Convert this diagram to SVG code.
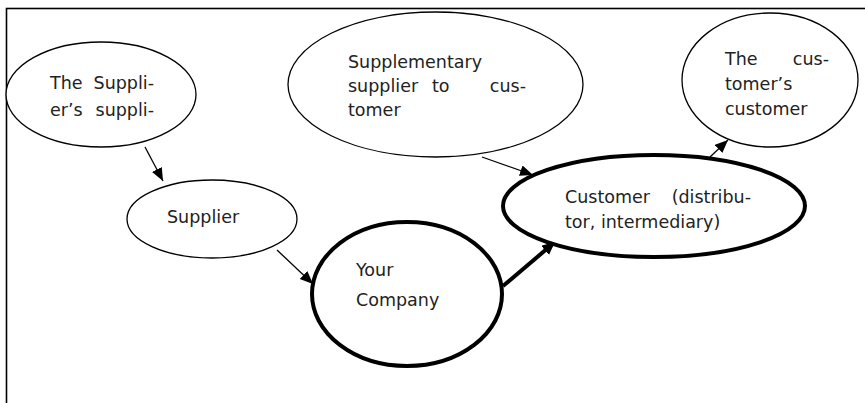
<svg xmlns="http://www.w3.org/2000/svg" width="865" height="403" viewBox="0 0 865 403">
  <style>
    .node { fill: #fff; stroke: #000; stroke-width: 1.3; }
    .bold { stroke-width: 4; }
    .lbl { font-family: "DejaVu Sans", "Liberation Sans", sans-serif; font-size: 17.5px; fill: #222; }
    .edge { stroke: #000; stroke-width: 1.3; fill: none; }
    .edge.heavy { stroke-width: 4; }
  </style>
  <defs>
    <marker id="arrow" markerUnits="userSpaceOnUse" markerWidth="15" markerHeight="12" refX="13" refY="5.5" orient="auto">
      <path d="M0,0 L13,5.5 L0,11 Z" fill="#000"/>
    </marker>
    <marker id="arrowHeavy" markerUnits="userSpaceOnUse" markerWidth="16" markerHeight="14" refX="13" refY="6" orient="auto">
      <path d="M0,0 L13,6 L0,12 Z" fill="#000"/>
    </marker>
  </defs>

  <rect x="6.5" y="8.5" width="900" height="450" fill="#fff" stroke="#000" stroke-width="1.6"/>

  <g id="connectors">
    <line class="edge" x1="145" y1="147" x2="163" y2="181" marker-end="url(#arrow)"/>
    <line class="edge" x1="277" y1="250" x2="313" y2="284" marker-end="url(#arrow)"/>
    <line class="edge heavy" x1="503" y1="286" x2="555" y2="242" marker-end="url(#arrowHeavy)"/>
    <line class="edge" x1="482" y1="157" x2="533" y2="175" marker-end="url(#arrow)"/>
    <line class="edge" x1="710" y1="157" x2="728" y2="140" marker-end="url(#arrow)"/>
  </g>

  <g id="suppliers-supplier">
    <ellipse class="node" cx="101" cy="94.5" rx="95" ry="52.5"/>
    <text class="lbl" x="50" y="89">The</text>
    <text class="lbl" x="154" y="89" text-anchor="end">Suppli-</text>
    <text class="lbl" x="50" y="116">er’s</text>
    <text class="lbl" x="154" y="116" text-anchor="end">suppli-</text>
  </g>

  <g id="supplier">
    <ellipse class="node" cx="212" cy="219" rx="85" ry="39"/>
    <text class="lbl" x="167" y="223">Supplier</text>
  </g>

  <g id="your-company">
    <ellipse class="node bold" cx="407" cy="294" rx="95" ry="72"/>
    <text class="lbl" x="356" y="276">Your</text>
    <text class="lbl" x="356" y="306">Company</text>
  </g>

  <g id="supplementary-supplier">
    <ellipse class="node" cx="435.5" cy="84.5" rx="147.5" ry="72.5"/>
    <text class="lbl" x="348" y="68">Supplementary</text>
    <text class="lbl" x="348" y="92">supplier</text>
    <text class="lbl" x="432" y="92">to</text>
    <text class="lbl" x="526" y="92" text-anchor="end">cus-</text>
    <text class="lbl" x="348" y="116">tomer</text>
  </g>

  <g id="customer">
    <ellipse class="node bold" cx="654" cy="206" rx="151" ry="51"/>
    <text class="lbl" x="565" y="203">Customer</text>
    <text class="lbl" x="751" y="203" text-anchor="end">(distribu-</text>
    <text class="lbl" x="565" y="228">tor, intermediary)</text>
  </g>

  <g id="customers-customer">
    <ellipse class="node" cx="770" cy="80" rx="88" ry="67"/>
    <text class="lbl" x="725" y="65">The</text>
    <text class="lbl" x="829" y="65" text-anchor="end">cus-</text>
    <text class="lbl" x="725" y="90">tomer’s</text>
    <text class="lbl" x="725" y="115">customer</text>
  </g>
</svg>
